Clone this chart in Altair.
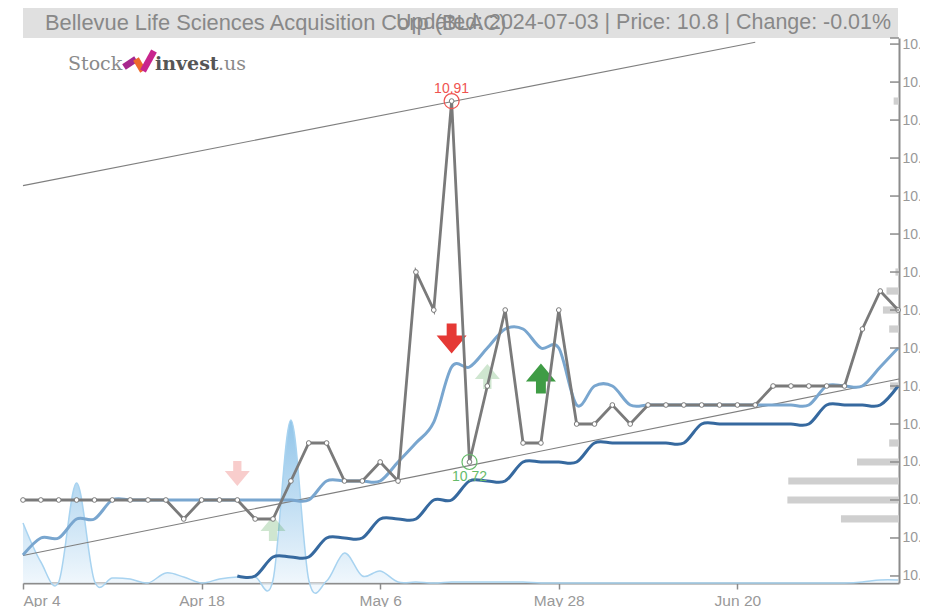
import altair as alt
import pandas as pd

N_DAYS = 50
x_max = 49.05
y_min, y_max = 10.6563, 10.9432

close = [10.70]*9 + [10.69,10.70,10.70,10.70,10.69,10.69,10.71,10.73,10.73,10.71,10.71,10.72,10.71,
         10.82,10.80,10.91,10.72,10.76,10.80,10.73,10.73,10.80,10.74,10.74,10.75,10.74,
         10.75,10.75,10.75,10.75,10.75,10.75,10.75,10.76,10.76,10.76,10.76,10.76,10.79,10.81,10.80]
sma_short = [10.671,10.68,10.68,10.69,10.69,10.70,10.70,10.70,10.70,10.70,10.70,10.70,10.70,10.70,10.70,10.70,
             10.70,10.71,10.71,10.71,10.71,10.72,10.73,10.741,10.77,10.77,10.78,10.79,10.79,10.78,10.78,
             10.75,10.76,10.76,10.75,10.75,10.75,10.75,10.75,10.75,10.75,10.75,10.75,10.75,10.75,10.76,10.76,10.76,10.77,10.78]
sma_long_start = 12
sma_long = [10.66,10.66,10.67,10.67,10.67,10.68,10.68,10.68,10.69,10.69,10.69,10.70,10.70,10.71,10.71,10.71,
            10.72,10.72,10.72,10.72,10.73,10.73,10.73,10.73,10.73,10.73,10.74,10.74,10.74,10.74,10.74,10.74,10.74,
            10.75,10.75,10.75,10.75,10.76]
volume = [60,21,1,100,2,5,4,0,10,6,0,4,6,6,3,163,3,2,30,7,12,1,1,0,1,1,1,1,1,0] + [0]*17 + [1,3,3]

tick_pos = [0,10,20,30,40]
tick_labels = ["Apr 4","Apr 18","May 6","May 28","Jun 20"]
price_ticks = [10.66,10.68,10.70,10.72,10.74,10.76,10.78,10.80,10.82,10.84,10.86,10.88,10.90,10.92,10.94]

trend_top_x = [0,41]; trend_top_y = [10.8655,10.941]
trend_bot_x = [0,49.05]; trend_bot_y = [10.6708,10.7637]

profile_price = [10.91,10.82,10.81,10.80,10.79,10.76,10.73,10.72,10.71,10.70,10.69]
profile_len = [0.3,0.2,0.7,0.9,0.55,0.5,0.55,2.35,6.2,6.25,3.25]

arrow_down = "M-0.33,-1 L0.33,-1 L0.33,-0.2 L1,-0.2 L0,1 L-1,-0.2 L-0.33,-0.2 Z"
arrow_up = "M-0.33,1 L0.33,1 L0.33,0.2 L1,0.2 L0,-1 L-1,0.2 L-0.33,0.2 Z"
signal_i = [24,29,12,14,26]
signal_p = [10.785,10.764,10.714,10.685,10.765]

GREY="#7a7a7a"; LABEL="#999999"; AXIS="#8c8c8c"
RED="#e53935"; GREEN="#3f9c45"

days = pd.DataFrame({"i":range(N_DAYS),"close":close,"sma":sma_short,"vol":volume})
long_df = pd.DataFrame({"i":range(sma_long_start,sma_long_start+len(sma_long)),"p":sma_long})
label_map = "{" + ",".join(f"{p}:'{t}'" for p,t in zip(tick_pos,tick_labels)) + "}"
xs = alt.Scale(domain=[0,x_max],nice=False,zero=False)
xa = alt.Axis(values=tick_pos, title=None, grid=False, labelFont="Liberation Sans", labelFontSize=15.5,
              labelColor=LABEL, tickColor=AXIS, tickSize=6, tickWidth=1.5, domainColor=AXIS, domainWidth=2,
              labelPadding=4, labelExpr=label_map+"[datum.value]")
X = alt.X("i:Q", scale=xs, axis=xa)
ys = alt.Scale(domain=[y_min,y_max],nice=False,zero=False)
def Y(f, axis=None):
    return alt.Y(f, scale=ys, axis=axis, title=None)

# grey title band
band = alt.Chart(pd.DataFrame({"i":[0]})).mark_rect(color="#e0e0e0").encode(
    x=alt.value(0),x2=alt.value(875),y=alt.value(-31),y2=alt.value(0))

# volume area on its own scale
vol = alt.Chart(days).mark_area(
    interpolate="cardinal",
    line=alt.LineConfig(color="#a8d3f0",strokeWidth=1.5),
    color=alt.Gradient(gradient="linear",x1=0,x2=0,y1=0,y2=1,
        stops=[alt.GradientStop(color="#62ace0",offset=0),alt.GradientStop(color="#f2f8fd",offset=1)])
).encode(x=X,y=alt.Y("vol:Q",scale=alt.Scale(domain=[0,545],nice=False),axis=None,title=None))

profile_df = pd.DataFrame({"p":profile_price,"len":profile_len})
profile = alt.Chart(profile_df).transform_calculate(
    x0=f"{x_max}-datum.len", y0="datum.p-0.0019", y1="datum.p+0.0019", x1=str(x_max)
).mark_rect(color="#cfcfcf").encode(x=alt.X("x0:Q",scale=xs,axis=xa),x2="x1:Q",y=Y("y0:Q"),y2="y1:Q")

def arrows(idx,shape,color,op,size):
    return alt.Chart(pd.DataFrame({"i":[signal_i[idx]],"p":[signal_p[idx]]})).mark_point(
        shape=shape,filled=True,color=color,opacity=op,size=size,strokeWidth=0).encode(x=X,y=Y("p:Q"))

a1=arrows(0,arrow_down,RED,1,900)
a2=arrows(1,arrow_up,GREEN,1,900)
a3=arrows(2,arrow_down,RED,0.25,625)
a4=arrows(3,arrow_up,GREEN,0.25,625)
a5=arrows(4,arrow_up,GREEN,0.25,625)

def trend(xv,ps):
    return alt.Chart(pd.DataFrame({"i":xv,"p":ps})).mark_line(color="#7f7f7f",strokeWidth=1.1).encode(x=X,y=Y("p:Q"))
t1=trend(trend_top_x,trend_top_y); t2=trend(trend_bot_x,trend_bot_y)

light = alt.Chart(days).mark_line(color="#79a6cf",strokeWidth=3,interpolate="cardinal").encode(x=X,y=Y("sma:Q"))
dark = alt.Chart(long_df).mark_line(color="#36699f",strokeWidth=3,interpolate="cardinal").encode(x=X,y=Y("p:Q"))
price = alt.Chart(days).mark_line(color=GREY,strokeWidth=2.8,
        point=alt.OverlayMarkDef(filled=True,fill="white",stroke=GREY,strokeWidth=1,size=22,opacity=1)
    ).encode(x=X,y=Y("close:Q"))

ticks_df = pd.DataFrame({"p":price_ticks+[y_max]})
axis_layer = alt.Chart(ticks_df).mark_rule(color=AXIS,strokeWidth=1.5).encode(
    x=alt.value(867),x2=alt.value(876),
    y=Y("p:Q",axis=alt.Axis(orient="right",values=price_ticks,format=".2f",ticks=False,grid=False,
        labelFont="Liberation Sans",labelFontSize=14,labelColor=LABEL,labelPadding=3,
        domainColor=AXIS,domainWidth=2)))

hi = pd.DataFrame({"i":[24],"p":[10.91],"t":["10.91"]})
lo = pd.DataFrame({"i":[25],"p":[10.72],"t":["10.72"]})
def marker(df,color,dy):
    ring = alt.Chart(df).mark_point(shape="circle",filled=False,color=color,size=225,strokeWidth=1.2,opacity=1).encode(x=X,y=Y("p:Q"))
    txt = alt.Chart(df).mark_text(color=color,font="Liberation Sans",fontSize=14,dy=dy).encode(x=X,y=Y("p:Q"),text="t:N")
    return [ring,txt]
m1=marker(hi,"#ef5350",-12); m2=marker(lo,"#66bb6a",15)

def label(text,px,py,size,color,align="left",font="Liberation Sans",weight="normal"):
    return alt.Chart(pd.DataFrame({"t":[text]})).mark_text(
        align=align,baseline="middle",font=font,fontSize=size,color=color,fontWeight=weight
    ).encode(x=alt.value(px),y=alt.value(py),text="t:N")

title1=label("Bellevue Life Sciences Acquisition Corp (BLAC)",22,-15,21.85,"#888888")
title2=label("Updated: 2024-07-03 | Price: 10.8 | Change: -0.01%",868,-15,21.45,"#888888",align="right")
logo1=label("Stock",45,26,19,"#8a8a8a",font="DejaVu Serif")
logo2=label("invest",132,26,19,"#555555",font="DejaVu Serif",weight="bold")
logo3=label(".us",195,26,19,"#8a8a8a",font="DejaVu Serif")

def stroke(x1,y1,x2,y2,c):
    return alt.Chart(pd.DataFrame({"i":[0]})).mark_rule(color=c,strokeWidth=6.5).encode(
        x=alt.value(x1),x2=alt.value(x2),y=alt.value(y1),y2=alt.value(y2))
icon=[stroke(101,29,113,21,"#a6288f"),stroke(113,21,120,33,"#ee6a2b"),stroke(120,33,131,13,"#c8258d")]

chart = alt.layer(band,vol,profile,a3,a4,a5,a1,a2,t1,t2,light,dark,price,axis_layer,*m1,*m2,title1,title2,logo1,logo2,logo3,*icon
    ).resolve_scale(y="independent").properties(
    width=876,height=545,
    padding={"left":15,"top":30,"right":21,"bottom":24},
    autosize=alt.AutoSizeParams(type="none"),
    background="white"
).configure_view(stroke=None)

chart.save("out.html", embed_options={"renderer":"svg","actions":False})
